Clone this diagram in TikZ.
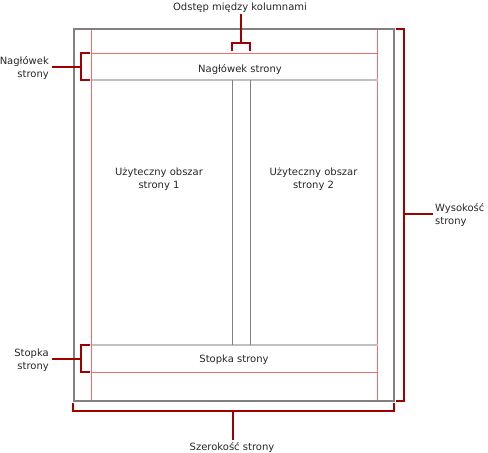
\documentclass[tikz,border=0pt]{standalone}
\usepackage{fontspec}
\setmainfont{DejaVu Sans}
\usetikzlibrary{positioning,calc}
\definecolor{pageedge}{HTML}{808080}
\definecolor{marginred}{HTML}{EE6E6E}
\definecolor{bandgray}{HTML}{C0C0C0}
\definecolor{bracketred}{HTML}{A00000}
\tikzset{
  pageline/.style={draw=pageedge,line width=2pt},
  marginline/.style={draw=marginred,line width=1.1pt},
  bandline/.style={draw=bandgray,line width=2pt},
  colline/.style={draw=pageedge,line width=1pt},
  bracket/.style={draw=bracketred,line width=2pt},
  lbl/.style={font=\fontsize{10}{12.5}\selectfont,text=black!85,inner sep=0pt}
}

\begin{document}
\begin{tikzpicture}[x=1pt,y=-1pt]
  \useasboundingbox (0,0) rectangle (488,453);

  % margins and bands
  \draw[marginline] (91.5,29) -- (91.5,401);
  \draw[marginline] (377.5,29) -- (377.5,401);
  \draw[marginline] (91.5,53.5) -- (377.5,53.5);
  \draw[marginline] (91.5,372.5) -- (377.5,372.5);
  \draw[bandline] (91.5,80) -- (377.5,80);
  \draw[bandline] (91.5,345) -- (377.5,345);
  \draw[colline] (232.5,80) -- (232.5,345);
  \draw[colline] (250.5,80) -- (250.5,345);

  % page
  \draw[pageline] (74,29) rectangle (394,401);

  % texts on the page
  \node[lbl] (header) at (240,69.5) {Nagłówek strony};
  \node[lbl] (footer) at (234,359.5) {Stopka strony};
  \node[lbl,align=center] (col1) at (159,179) {Użyteczny obszar\\strony 1};
  \node[lbl,align=center] (col2) at (313.5,179) {Użyteczny obszar\\strony 2};

  % brackets
  \coordinate (gap) at (241,43);
  \coordinate (head) at (81,67);
  \coordinate (foot) at (81,359);
  \coordinate (height) at (404,214);
  \coordinate (width) at (233,411);

  % labels outside
  \node[lbl] (gaplbl) at (240,7.5) {Odstęp między kolumnami};
  \node[lbl,align=right,anchor=east] (headlbl) at (49,68) {Nagłówek\\strony};
  \node[lbl,align=right,anchor=east] (footlbl) at (49,360) {Stopka\\strony};
  \node[lbl,align=left,anchor=west] (heightlbl) at (435,215) {Wysokość\\strony};
  \node[lbl] (widthlbl) at (232,448) {Szerokość strony};

  \draw[bracket] (232,51) -- (232,43) -- (250,43) -- (250,51);
  \draw[bracket] (gap) -- ++(0,-29);
  \draw[bracket] (90,53) -- (81,53) -- (81,80) -- (90,80);
  \draw[bracket] (head) -- ++(-29,0);
  \draw[bracket] (90,345) -- (81,345) -- (81,372) -- (90,372);
  \draw[bracket] (foot) -- ++(-29,0);
  \draw[bracket] (396,29) -- (404,29) -- (404,401) -- (396,401);
  \draw[bracket] (height) -- ++(29,0);
  \draw[bracket] (73,403) -- (73,411) -- (394,411) -- (394,403);
  \draw[bracket] (width) -- ++(0,29);
\end{tikzpicture}
\end{document}
